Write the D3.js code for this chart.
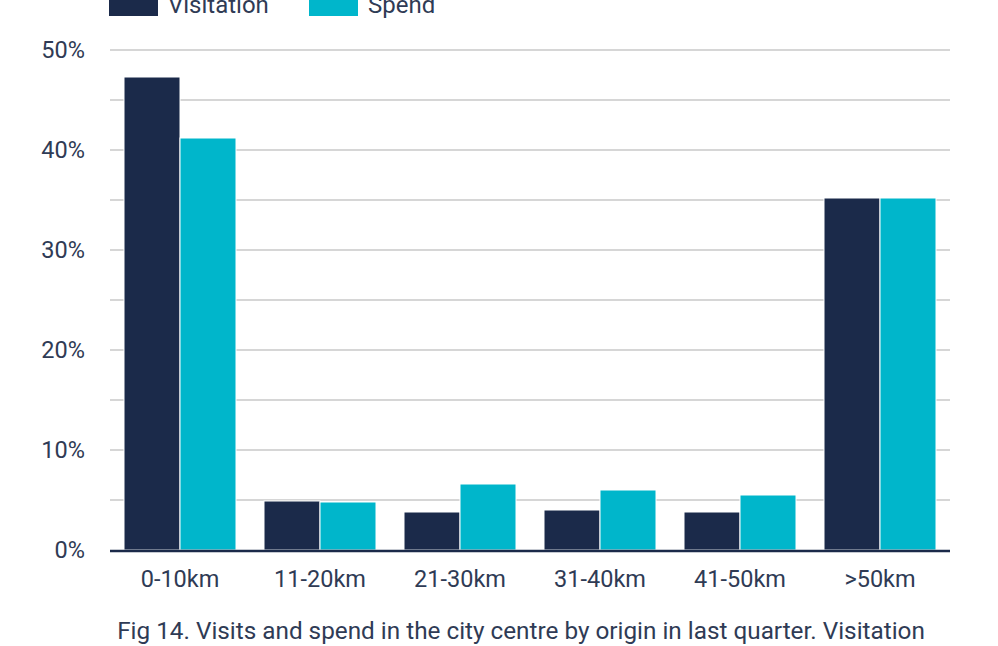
<!DOCTYPE html>
<html>
<head>
<meta charset="utf-8">
<script src="https://cdn.jsdelivr.net/npm/d3@7"></script>
<style>
  html, body { margin: 0; padding: 0; background: #fff; }
  svg { display: block; font-family: Roboto, "Noto Sans", sans-serif; }
</style>
</head>
<body>
<svg id="chart" width="998" height="646"></svg>
<script>
// Share of visits and spend by distance of origin
const categories = ["0-10km", "11-20km", "21-30km", "31-40km", "41-50km", ">50km"];
const seriesNames = ["Visitation", "Spend"];
const visitation = [47.3, 4.9, 3.8, 4.0, 3.8, 35.2];
const spend = [41.2, 4.8, 6.6, 6.0, 5.5, 35.2];
const yTicks = [0, 10, 20, 30, 40, 50];
const gridValues = [5, 10, 15, 20, 25, 30, 35, 40, 45, 50];
const caption = "Fig 14. Visits and spend in the city centre by origin in last quarter. Visitation";

const colors = { Visitation: "#1b2a4a", Spend: "#00b6cb" };
const textColor = "#2f3b55";

const svg = d3.select("#chart");
const margin = { left: 110, right: 48, top: 50, bottom: 96 };
const W = 998, H = 646;

const x = d3.scaleBand().domain(categories)
  .range([margin.left, W - margin.right])
  .paddingInner(0.2).paddingOuter(0.1);
const xs = d3.scaleBand().domain(seriesNames).range([0, x.bandwidth()]);
const y = d3.scaleLinear().domain([0, 50]).range([H - margin.bottom, margin.top]);

// Gridlines
svg.append("g").selectAll("line").data(gridValues).join("line")
  .attr("x1", margin.left).attr("x2", W - margin.right)
  .attr("y1", d => y(d)).attr("y2", d => y(d))
  .attr("stroke", "#d6d6d6").attr("stroke-width", 2);

// Bars
const rows = categories.map((c, i) => ({ c, Visitation: visitation[i], Spend: spend[i] }));
svg.append("g").selectAll("g").data(rows).join("g")
  .attr("transform", d => `translate(${x(d.c)},0)`)
  .selectAll("rect").data(d => seriesNames.map(k => ({ k, v: d[k] }))).join("rect")
  .attr("x", d => xs(d.k))
  .attr("width", xs.bandwidth())
  .attr("y", d => y(d.v))
  .attr("height", d => y(0) - y(d.v))
  .attr("fill", d => colors[d.k])
  .attr("stroke", "#ffffff").attr("stroke-width", 1);

// Baseline
svg.append("line")
  .attr("x1", margin.left).attr("x2", W - margin.right)
  .attr("y1", y(0) + 1).attr("y2", y(0) + 1)
  .attr("stroke", "#1b2a4a").attr("stroke-width", 2.5);

// Y axis labels
const yAxis = d3.axisLeft(y).tickValues(yTicks).tickFormat(d => d + "%").tickSize(0).tickPadding(0);
const ya = svg.append("g").attr("transform", `translate(85,0)`).call(yAxis);
ya.select(".domain").remove();
ya.selectAll("text").attr("fill", textColor).style("font-size", "23.5px")
  .style("font-family", "Roboto, sans-serif");

// X axis labels
const xAxis = d3.axisBottom(x).tickSize(0).tickPadding(0);
const xa = svg.append("g").attr("transform", `translate(0,${y(0) + 20})`).call(xAxis);
xa.select(".domain").remove();
xa.selectAll("text").attr("fill", textColor).style("font-size", "23.5px")
  .style("font-family", "Roboto, sans-serif");

// Legend
const legend = svg.append("g");
const legendX = [109, 309];
seriesNames.forEach((k, i) => {
  legend.append("rect").attr("x", legendX[i]).attr("y", -10).attr("width", 49).attr("height", 26)
    .attr("fill", colors[k]);
  legend.append("text").attr("x", legendX[i] + 59).attr("y", 13)
    .attr("fill", textColor).style("font-size", "24px").text(k);
});

// Caption
svg.append("text").attr("x", 521).attr("y", 639).attr("text-anchor", "middle")
  .attr("fill", textColor).style("font-size", "24.3px").text(caption);
</script>
</body>
</html>
